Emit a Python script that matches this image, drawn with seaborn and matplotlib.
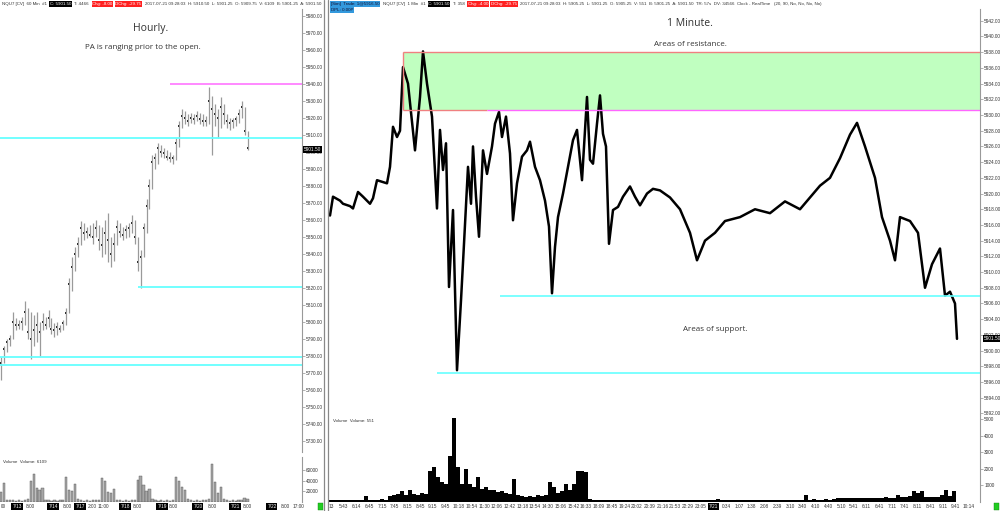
import numpy as np
import matplotlib
matplotlib.use('Agg')
import matplotlib.pyplot as plt
import matplotlib.transforms as mtransforms
from matplotlib.lines import Line2D
from matplotlib.patches import Rectangle
import seaborn as sns

# ---- hourly (60 Min) bars ----
hr_high = [5779, 5786, 5790, 5792, 5806, 5802, 5801, 5803, 5812, 5808,
           5806, 5804, 5806, 5800, 5805, 5803, 5807, 5802, 5799, 5800,
           5798, 5801, 5808, 5826, 5838, 5844, 5850, 5859, 5858, 5856,
           5857, 5858, 5860, 5857, 5856, 5860, 5864, 5850, 5852, 5860,
           5858, 5856, 5857, 5858, 5863, 5860, 5850, 5842, 5858, 5872,
           5884, 5898, 5899, 5905, 5904, 5902, 5901, 5900, 5898, 5908,
           5918, 5925, 5924, 5922, 5923, 5922, 5924, 5923, 5922, 5921,
           5938, 5933, 5928, 5925, 5932, 5928, 5922, 5920, 5920, 5921,
           5925, 5930, 5926, 5912]
hr_low = [5766, 5776, 5782, 5786, 5790, 5795, 5796, 5795, 5798, 5790,
          5778, 5786, 5788, 5780, 5795, 5796, 5797, 5793, 5791, 5792,
          5794, 5795, 5798, 5805, 5818, 5830, 5838, 5845, 5848, 5849,
          5850, 5846, 5850, 5842, 5838, 5840, 5835, 5832, 5836, 5845,
          5850, 5848, 5849, 5850, 5852, 5846, 5830, 5820, 5838, 5852,
          5866, 5878, 5890, 5893, 5897, 5896, 5895, 5894, 5893, 5895,
          5903, 5914, 5916, 5915, 5917, 5916, 5918, 5916, 5915, 5915,
          5916, 5898, 5915, 5908, 5914, 5916, 5914, 5913, 5914, 5915,
          5917, 5920, 5910, 5901]
hr_close = [5776, 5784, 5788, 5790, 5800, 5798, 5798, 5800, 5806, 5794,
            5790, 5795, 5798, 5794, 5800, 5798, 5802, 5796, 5795, 5797,
            5796, 5799, 5805, 5822, 5832, 5840, 5846, 5855, 5852, 5853,
            5851, 5850, 5855, 5848, 5845, 5852, 5848, 5840, 5846, 5856,
            5853, 5851, 5854, 5855, 5858, 5850, 5835, 5838, 5855, 5868,
            5880, 5894, 5896, 5902, 5900, 5899, 5897, 5896, 5896, 5905,
            5915, 5921, 5920, 5918, 5920, 5919, 5921, 5919, 5918, 5918,
            5930, 5925, 5922, 5920, 5926, 5922, 5918, 5917, 5918, 5919,
            5922, 5926, 5912, 5902]
hr_volume = [19000, 35000, 4000, 3000, 3000, 2000, 3000, 2000, 4000, 5000,
             40000, 52000, 27000, 22000, 26000, 4000, 3000, 2000, 3000, 2000,
             3000, 4000, 46000, 22000, 21000, 34000, 5000, 3000, 2000, 3000,
             2000, 3000, 3000, 4000, 45000, 40000, 19000, 16000, 24000, 4000,
             3000, 2000, 3000, 2000, 3000, 4000, 42000, 49000, 31000, 20000,
             24000, 5000, 3000, 2000, 3000, 2000, 3000, 2000, 4000, 46000,
             40000, 28000, 22000, 5000, 3000, 2000, 3000, 2000, 3000, 4000,
             5000, 71000, 37000, 16000, 28000, 5000, 3000, 2000, 3000, 2000,
             3000, 4000, 8000, 6000]
hr_levels = [5939.6, 5907.9, 5820.6, 5779.4, 5774.5]
hr_level_from = [57, -0.3, 46, -0.3, -0.3]
hr_level_color = ['#ff80ff', '#66ffff', '#66ffff', '#66ffff', '#66ffff']

# ---- 1 minute chart: bar number along the axis and price ----
m1_bar = [0, 3, 10, 13, 20, 23, 28, 33, 40, 43, 47, 57, 60, 63, 67, 70, 73, 78,
          85, 90, 93, 97, 102, 107, 110, 113, 116, 119, 123, 127, 131, 134,
          138, 141, 143, 146, 149, 153, 157, 162, 165, 169, 172, 176, 180,
          183, 187, 192, 197, 200, 205, 210, 215, 219, 222, 225, 228, 233,
          238, 243, 247, 252, 257, 260, 263, 267, 270, 273, 276, 279, 283,
          288, 293, 300, 305, 310, 317, 323, 330, 340, 350, 360, 367, 375,
          385, 395, 410, 425, 440, 455, 470, 480, 490, 500, 510, 520, 527,
          535, 545, 552, 560, 565, 570, 580, 588, 595, 602, 610, 615, 620,
          625, 627]
m1_price = [5917.2, 5919.6, 5919.1, 5918.7, 5918.4, 5918.1, 5920.2, 5919.6,
            5918.7, 5919.4, 5921.7, 5921.3, 5923.4, 5928.5, 5927.2, 5928.0,
            5936.1, 5934.0, 5925.5, 5932.3, 5938.1, 5934.0, 5929.8, 5918.1,
            5928.1, 5923.0, 5926.4, 5908.1, 5917.9, 5897.5, 5906.4, 5913.6,
            5923.4, 5918.7, 5926.0, 5919.6, 5914.5, 5925.5, 5922.5, 5926.0,
            5928.9, 5930.4, 5927.2, 5929.8, 5925.1, 5916.6, 5921.3, 5924.7,
            5925.5, 5926.6, 5923.4, 5921.7, 5919.1, 5915.8, 5907.3, 5913.2,
            5917.0, 5920.0, 5923.4, 5926.8, 5928.1, 5921.7, 5932.3, 5924.3,
            5923.8, 5928.9, 5932.5, 5927.6, 5926.0, 5913.6, 5917.9, 5918.3,
            5919.6, 5920.9, 5919.6, 5918.5, 5920.0, 5920.6, 5920.4, 5919.5,
            5918.0, 5915.0, 5911.5, 5914.0, 5915.0, 5916.5, 5917.0, 5918.0,
            5917.5, 5919.0, 5918.0, 5919.5, 5921.0, 5922.0, 5924.5, 5927.5,
            5929.0, 5926.0, 5922.0, 5917.0, 5914.0, 5911.5, 5917.0, 5916.5,
            5915.0, 5908.0, 5911.0, 5913.0, 5907.0, 5907.5, 5906.0, 5901.5]
# volume, one value for each 4 bars
m1_vol = [120, 110, 130, 120, 100, 120, 110, 130, 120, 340,
          150, 120, 140, 160, 130, 350, 420, 480, 650, 420,
          750, 500, 450, 520, 480, 1900, 2130, 1500, 1200, 1100,
          2770, 5040, 2100, 1100, 2000, 1100, 900, 1500, 800, 900,
          700, 750, 600, 650, 550, 500, 1400, 450, 350, 300,
          350, 300, 400, 350, 450, 1200, 900, 550, 650, 1100,
          700, 1100, 1900, 1870, 1800, 200, 120, 110, 130, 120,
          110, 140, 120, 100, 130, 110, 120, 150, 110, 120,
          110, 100, 120, 110, 130, 110, 100, 120, 110, 130,
          120, 110, 140, 120, 110, 130, 120, 200, 110, 120,
          130, 110, 120, 140, 110, 120, 130, 110, 120, 140,
          120, 110, 130, 120, 140, 150, 130, 120, 140, 440,
          150, 160, 140, 150, 170, 150, 160, 250, 240, 260,
          250, 230, 260, 250, 240, 270, 250, 260, 240, 280,
          260, 250, 440, 280, 280, 350, 690, 520, 650, 300,
          320, 300, 310, 400, 750, 350, 650]
resist_lo, resist_hi, resist_from = 5930.7, 5938.0, 73
support_levels = [5907.0, 5897.1]
support_from = [170, 107]
last_price = 5901.50

hr_time_labels = ['00', '7/13', '8:00', '7/14', '8:00', '7/17', '2:00', '11:00',
                  '7/18', '8:00', '7/19', '8:00', '7/20', '8:00', '7/21', '8:00',
                  '7/22', '8:00', '17:00']
hr_time_pos = [0.7, 5.4, 9.8, 17.5, 22.2, 26.6, 30.6, 34.3, 41.8, 45.8, 54.2,
               57.9, 66.3, 71.0, 78.8, 82.8, 91.2, 95.6, 100.0]
m1_time_labels = ['13', '5:43', '6:14', '6:45', '7:15', '7:45', '8:15', '8:45', '9:15',
                  '9:45', '10:18', '10:54', '11:30', '12:06', '12:42', '13:18', '13:54',
                  '14:30', '15:06', '15:42', '16:33', '18:09', '18:45', '19:24', '20:02',
                  '20:39', '21:16', '21:53', '22:29', '23:05', '7/21', '0:34', '1:07',
                  '1:38', '2:08', '2:39', '3:10', '3:40', '4:10', '4:40', '5:10', '5:41',
                  '6:11', '6:41', '7:11', '7:41', '8:11', '8:41', '9:11', '9:41', '10:14']

# ---- layout ----
sns.set_theme(style='white')
plt.rcParams['font.family'] = ['Liberation Sans', 'DejaVu Sans']
W, H = 1000, 511
fig = plt.figure(figsize=(10, 5.11), dpi=100)


def box(x0, y0, x1, y1):
    return [x0 / W, 1 - y1 / H, (x1 - x0) / W, (y1 - y0) / H]


def ptext(x, y, s, **kw):
    return fig.text(x / W, 1 - y / H, s, **kw)


axh = fig.add_axes(box(0, 9, 302, 452))
axhv = fig.add_axes(box(0, 457, 302, 502), sharex=axh)
axm = fig.add_axes(box(329, 9, 980, 415))
axmv = fig.add_axes(box(329, 415, 980, 502), sharex=axm)

tick_kw = dict(labelsize=3.4, length=2, width=0.4, color='#777', labelcolor='#333', pad=1)
for ax in (axh, axhv, axm, axmv):
    ax.set_facecolor('white')
    for s in ('top', 'left', 'bottom'):
        ax.spines[s].set_visible(False)
    ax.spines['right'].set_color('#999')
    ax.spines['right'].set_linewidth(0.8)
    ax.yaxis.tick_right()
    ax.tick_params(axis='y', right=True, **tick_kw)
    ax.tick_params(axis='x', bottom=False, labelbottom=False)
    ax.set_xlabel('')
    ax.set_ylabel('')

# hourly price bars
idx = np.arange(len(hr_high))
axh.vlines(idx, hr_low, hr_high, color='#9a9a9a', lw=0.9)
sns.scatterplot(x=idx, y=hr_close, ax=axh, s=1.5, color='#222', marker='s',
                linewidth=0, legend=False)
for lvl, x0, c in zip(hr_levels, hr_level_from, hr_level_color):
    axh.hlines(lvl, x0, 101.35, color=c, lw=1.3)
axh.set_xlim(-0.337, 101.35)
axh.set_ylim(5723.4, 5983.9)
axh.set_yticks(np.arange(5730, 5990, 10))
axh.yaxis.set_major_formatter(lambda v, p: f'{v:.2f}')

# hourly volume
axhv.bar(idx, hr_volume, width=0.75, color='#a6a6a6', edgecolor='#555', lw=0.3)
axhv.set_ylim(0, 84000)
axhv.set_yticks([20000, 40000, 60000])
axhv.yaxis.set_major_formatter(lambda v, p: f'{v:.0f}')

# 1 minute price
sns.lineplot(x=m1_bar, y=m1_price, ax=axm, color='black', lw=1.8, estimator=None, sort=False)
axm.set_xlim(-1, 650)
axm.set_ylim(5891.8, 5943.5)
axm.add_patch(Rectangle((resist_from, resist_lo), 650 - resist_from, resist_hi - resist_lo,
                        fc='#c0ffc0', ec='none', zorder=0))
axm.hlines(resist_hi, resist_from, 650, color='#f08080', lw=1.0)
axm.vlines(resist_from, resist_lo, resist_hi, color='#f08080', lw=1.0)
axm.hlines(resist_lo, resist_from, 157, color='#f08080', lw=1.0)
axm.hlines(resist_lo, 157, 650, color='#ff66ff', lw=1.0)
for lvl, x0 in zip(support_levels, support_from):
    axm.hlines(lvl, x0, 650, color='#66ffff', lw=1.2)
axm.set_yticks(np.arange(5892, 5943, 2))
axm.yaxis.set_major_formatter(lambda v, p: f'{v:.2f}')
axm.set_xlabel('')
axm.set_ylabel('')

# 1 minute volume
vol_pos = np.arange(len(m1_vol)) * 4
axmv.bar(vol_pos, m1_vol, width=4, color='black', lw=0)
axmv.set_ylim(0, 5250)
axmv.set_yticks([1000, 2000, 3000, 4000, 5000])
axmv.yaxis.set_major_formatter(lambda v, p: f'{v:.0f}')

# time labels along the bottom strip
label_y = 1 - 506.5 / H
for ax, pos, labels in ((axhv, hr_time_pos, hr_time_labels),
                        (axmv, np.linspace(1, 638.5, len(m1_time_labels)), m1_time_labels)):
    tr = mtransforms.blended_transform_factory(ax.transData, fig.transFigure)
    for p, s in zip(pos, labels):
        kw = dict(fontsize=3.4, color='#333', ha='center', va='center', transform=tr)
        if '/' in s:
            kw.update(color='white', bbox=dict(boxstyle='square,pad=0.2', fc='black', ec='none'))
        ax.text(p, label_y, s, **kw)

# last price markers on the price scales
for ax in (axh, axm):
    tr = mtransforms.blended_transform_factory(ax.transAxes, ax.transData)
    ax.text(1.006, last_price, f'{last_price:.2f}', transform=tr, fontsize=3.4,
            color='white', va='center', ha='left',
            bbox=dict(boxstyle='square,pad=0.2', fc='black', ec='none'))

# panel dividers
for xp in (323.5, 327.5):
    fig.add_artist(Line2D([xp / W] * 2, [0, 1], transform=fig.transFigure, color='#888', lw=0.9))
for xp in (318, 994):
    fig.add_artist(Rectangle((xp / W, 1.5 / H), 5 / W, 7 / H, transform=fig.transFigure,
                             fc='#22cc22', ec='#118811', lw=0.3))

# headers
def header(x, y, parts):
    prev = None
    for s, bg, fg in parts:
        kw = dict(fontsize=3.2, color=fg, va='center', ha='left')
        if bg:
            kw['bbox'] = dict(boxstyle='square,pad=0.15', fc=bg, ec='none')
        if prev is None:
            prev = ptext(x, y, s, **kw)
        else:
            prev = axh.annotate(s, xy=(1, 0.5), xycoords=prev, xytext=(2.2, 0),
                                textcoords='offset points', annotation_clip=False, **kw)


header(2, 4, [('NQU7 [CV]  60 Min  #1', None, '#333'), ('C: 5901.50', 'black', 'white'),
              ('T: 4466', None, '#333'), ('Chg: -8.00', '#ff2020', 'white'),
              ('DChg: -29.75', '#ff2020', 'white'),
              ('2017-07-21 09:28:03  H: 5910.50  L: 5901.25  O: 5909.75  V: 6109  B: 5901.25  A: 5901.50',
               None, '#333')])
header(331, 4, [('[Sim]  Trade: 1@5916.50', '#3399dd', '#113'),
                ('NQU7 [CV]  1 Min  #1', None, '#333'), ('C: 5901.50', 'black', 'white'),
                ('T: 358', None, '#333'), ('Chg: -4.00', '#ff2020', 'white'),
                ('DChg: -29.75', '#ff2020', 'white'),
                ('2017-07-21 09:28:03  H: 5905.25  L: 5901.25  O: 5905.25  V: 551  B: 5901.25  A: 5901.50  '
                 'TR: 57s  DV: 34566  Clock - RealTime   (20, 90, No, No, No, No)', None, '#333')])
ptext(331, 10, 'DPL: 0.00P', fontsize=3.2, color='#113', va='center', ha='left',
      bbox=dict(boxstyle='square,pad=0.15', fc='#3399dd', ec='none'))

# annotations
note = dict(family=['Open Sans', 'DejaVu Sans'], color='#333', ha='center', va='center')
ptext(150.5, 28, 'Hourly.', fontsize=7.5, **note)
ptext(143, 47, 'PA is ranging prior to the open.', fontsize=5.8, **note)
ptext(690, 24, '1 Minute.', fontsize=7.5, **note)
ptext(690, 44.5, 'Areas of resistance.', fontsize=5.8, **note)
ptext(715, 329, 'Areas of support.', fontsize=5.8, **note)
ptext(3, 461.5, 'Volume  Volume: 6109', fontsize=3.2, color='#333', va='center')
ptext(333, 421, 'Volume  Volume: 551', fontsize=3.2, color='#333', va='center')

fig.savefig('out.png', dpi=100)
